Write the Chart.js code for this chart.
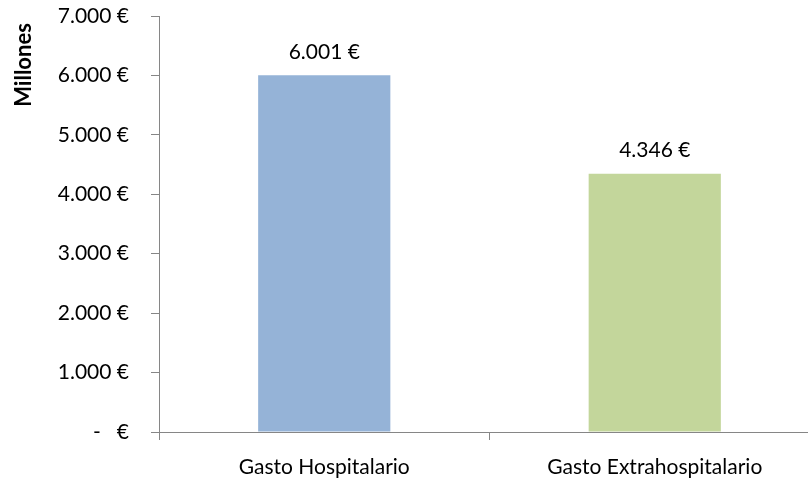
<!DOCTYPE html>
<html>
<head>
<meta charset="utf-8">
<script src="https://cdn.jsdelivr.net/npm/chart.js@4/dist/chart.umd.min.js"></script>
<style>
  html, body { margin: 0; padding: 0; background: #ffffff; overflow: hidden; }
  #frame { width: 808px; height: 481px; overflow: hidden; position: relative; }
  #wrap { width: 820px; height: 481px; position: relative; }
</style>
</head>
<body>
<div id="frame"><div id="wrap"><canvas id="c"></canvas></div></div>
<script>
// Gasto sanitario por tipo (millones de euros)
const categories = ['Gasto Hospitalario', 'Gasto Extrahospitalario'];
const gasto = [6001, 4346];
const barColors = ['#95B3D7', '#C3D69B'];
const yTicks = [0, 1000, 2000, 3000, 4000, 5000, 6000, 7000];

const FONT = 'Lato, "Open Sans", sans-serif';
const AXIS = '#868686';

function euro(v) {
  if (v === 0) return '-   €';
  return v.toLocaleString('de-DE') + ' €';
}

// Value labels above each bar
const valueLabels = {
  id: 'valueLabels',
  afterDatasetsDraw(chart) {
    const ctx = chart.ctx;
    const meta = chart.getDatasetMeta(0);
    ctx.save();
    ctx.font = '21px ' + FONT;
    ctx.fillStyle = '#000000';
    ctx.textAlign = 'center';
    ctx.textBaseline = 'middle';
    meta.data.forEach((bar, i) => {
      ctx.fillText(euro(chart.data.datasets[0].data[i]), bar.x, bar.y - 23);
    });
    ctx.restore();
  }
};

// Axis title "Millones" near the top of the value axis
const axisTitle = {
  id: 'axisTitle',
  afterDraw(chart) {
    const ctx = chart.ctx;
    ctx.save();
    ctx.font = 'bold 22px ' + FONT;
    ctx.fillStyle = '#000000';
    ctx.textAlign = 'center';
    ctx.textBaseline = 'middle';
    ctx.translate(24, 65);
    ctx.rotate(-Math.PI / 2);
    ctx.fillText('Millones', 0, 0);
    ctx.restore();
  }
};

new Chart(document.getElementById('c'), {
  type: 'bar',
  data: {
    labels: categories,
    datasets: [{
      data: gasto,
      backgroundColor: barColors,
      borderWidth: 0,
      categoryPercentage: 1,
      barPercentage: 0.40
    }]
  },
  options: {
    responsive: true,
    maintainAspectRatio: false,
    animation: false,
    layout: { padding: { top: 16, right: 0, left: 0, bottom: 0 } },
    plugins: {
      legend: { display: false },
      tooltip: { enabled: false }
    },
    scales: {
      x: {
        grid: {
          offset: true,
          drawOnChartArea: false,
          drawTicks: true,
          tickLength: 8,
          color: AXIS,
          lineWidth: 1
        },
        border: { color: AXIS, width: 1 },
        ticks: {
          color: '#000000',
          font: { family: FONT, size: 21 },
          padding: 15,
          maxRotation: 0
        },
        afterFit(scale) {
          scale.height = 49;
          scale.paddingLeft = 0;
          scale.paddingRight = 0;
        }
      },
      y: {
        min: 0,
        max: 7000,
        afterBuildTicks(scale) {
          scale.ticks = yTicks.map(v => ({ value: v }));
        },
        grid: {
          drawOnChartArea: false,
          drawTicks: true,
          tickLength: 8,
          color: AXIS,
          lineWidth: 1
        },
        border: { color: AXIS, width: 1 },
        ticks: {
          color: '#000000',
          font: { family: FONT, size: 21 },
          padding: 22,
          callback: (v) => euro(v)
        },
        afterFit(scale) {
          scale.width = 159;
          scale.paddingTop = 0;
          scale.paddingBottom = 0;
        }
      }
    }
  },
  plugins: [valueLabels, axisTitle]
});
</script>
</body>
</html>
